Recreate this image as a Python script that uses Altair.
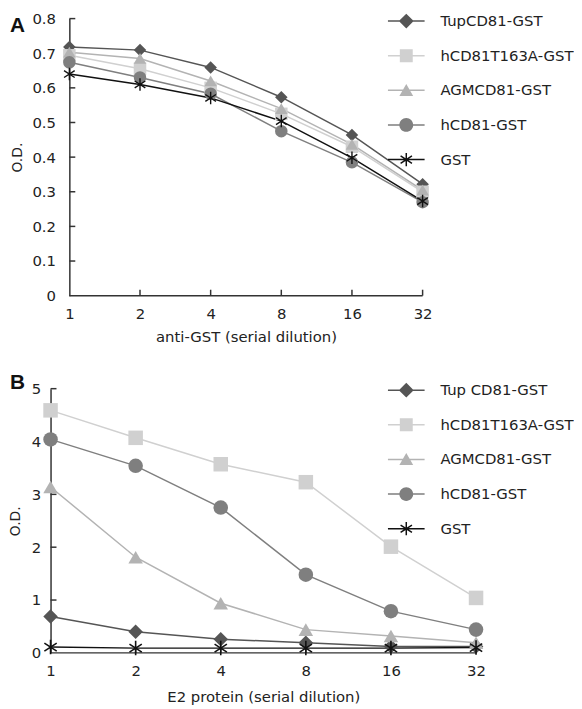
import altair as alt
import pandas as pd

# ---------------- data ----------------
dilutions = [1, 2, 4, 8, 16, 32]

names_a = ["TupCD81-GST", "hCD81T163A-GST", "AGMCD81-GST", "hCD81-GST", "GST"]
names_b = ["Tup CD81-GST", "hCD81T163A-GST", "AGMCD81-GST", "hCD81-GST", "GST"]

od_a = {
    "TupCD81-GST":    [0.718, 0.709, 0.659, 0.573, 0.464, 0.322],
    "hCD81T163A-GST": [0.694, 0.655, 0.600, 0.525, 0.430, 0.300],
    "AGMCD81-GST":    [0.703, 0.685, 0.620, 0.540, 0.437, 0.305],
    "hCD81-GST":      [0.674, 0.630, 0.583, 0.475, 0.385, 0.270],
    "GST":            [0.640, 0.610, 0.571, 0.504, 0.398, 0.273],
}
od_b = {
    "Tup CD81-GST":   [0.69, 0.40, 0.26, 0.19, 0.12, 0.12],
    "hCD81T163A-GST": [4.59, 4.07, 3.57, 3.23, 2.01, 1.04],
    "AGMCD81-GST":    [3.14, 1.81, 0.94, 0.44, 0.32, 0.19],
    "hCD81-GST":      [4.04, 3.54, 2.75, 1.48, 0.79, 0.44],
    "GST":            [0.11, 0.09, 0.09, 0.09, 0.09, 0.10],
}

y_ticks_a = [0, 0.1, 0.2, 0.3, 0.4, 0.5, 0.6, 0.7, 0.8]
y_ticks_b = [0, 1, 2, 3, 4, 5]
panel_labels = ["A", "B"]
x_title_a = "anti-GST (serial dilution)"
x_title_b = "E2 protein (serial dilution)"
y_title = "O.D."

# ---------------- styles ----------------
FONT = "DejaVu Sans"
TXT = "#222222"
AXIS = "#333333"
colors = ["#555555", "#d0d0d0", "#b3b3b3", "#7f7f7f", "#111111"]
ASTERISK = ("M-0.11,-1L0.11,-1L0.11,1L-0.11,1Z"
            "M-0.79,-0.642L0.91,0.458L0.79,0.642L-0.91,-0.458Z"
            "M-0.79,0.642L-0.91,0.458L0.79,-0.642L0.91,-0.458Z")
shapes = ["diamond", "square", "triangle-up", "circle", ASTERISK]

# legend glyphs: marker (unit box = 15 px) with a 37 px line through it
LEG_LINE = "M-2.47,-0.1L2.47,-0.1L2.47,0.1L-2.47,0.1Z"
legend_shapes = [
    LEG_LINE + "M0,-1L1,0L0,1L-1,0Z",
    LEG_LINE + "M-0.87,-0.87L0.87,-0.87L0.87,0.87L-0.87,0.87Z",
    LEG_LINE + "M0,-0.85L0.93,0.75L-0.93,0.75Z",
    LEG_LINE + "M-0.93,0A0.93,0.93 0 1,1 0.93,0A0.93,0.93 0 1,1 -0.93,0Z",
    LEG_LINE + ("M-0.1,-0.9L0.1,-0.9L0.1,0.9L-0.1,0.9Z"
                "M-0.711,-0.578L0.819,0.412L0.711,0.578L-0.819,-0.412Z"
                "M-0.711,0.578L-0.819,0.412L0.711,-0.578L0.819,-0.412Z"),
]


def long_df(names, table):
    rows = []
    for n in names:
        for d, v in zip(dilutions, table[n]):
            rows.append({"dil": d, "od": v, "series": n})
    return pd.DataFrame(rows)


def panel(names, table, yticks, ymax, width, height, xoff, xtitle, label,
          label_y, label_pad, title_pad, ytitle_pad, lx, ly, row_pad, psize):
    df = long_df(names, table)
    x_enc = alt.X(
        "dil:Q",
        scale=alt.Scale(type="log", base=2, domain=[1, 32], nice=False,
                        range=[xoff, width]),
        axis=alt.Axis(values=dilutions, format="d", title=xtitle, ticks=False,
                      domain=False, grid=False, labelPadding=11, titlePadding=title_pad,
                      labelFlush=False),
    )
    y_enc = alt.Y(
        "od:Q",
        scale=alt.Scale(domain=[0, ymax], nice=False, zero=True),
        axis=alt.Axis(values=yticks, format="~g", title=y_title, ticks=False,
                      grid=False, labelPadding=label_pad, titlePadding=ytitle_pad,
                      labelFlush=False, offset=-xoff),
    )
    legend = alt.Legend(
        title=None, orient="none", legendX=lx, legendY=ly,
        labelFont=FONT, labelFontSize=15, labelColor=TXT,
        symbolSize=225, rowPadding=row_pad, labelOffset=26, padding=0,
    )
    layers = []
    # axis line (x) drawn along the data range
    dom = pd.DataFrame({"dil": [dilutions[0]], "dil2": [dilutions[-1]]})
    layers.append(alt.Chart(dom).mark_rule(color=AXIS, strokeWidth=1.5).encode(
        x=x_enc, x2="dil2:Q", y=alt.value(height)))
    # inward ticks
    ytick_df = pd.DataFrame({"od": [t for t in yticks if t > 0]})
    layers.append(alt.Chart(ytick_df).mark_rule(color=AXIS, strokeWidth=1.5).encode(
        y=y_enc, x=alt.value(xoff), x2=alt.value(xoff + 6)))
    xtick_df = pd.DataFrame({"dil": dilutions[1:]})
    layers.append(alt.Chart(xtick_df).mark_rule(color=AXIS, strokeWidth=1.5).encode(
        x=x_enc, y=alt.value(height), y2=alt.value(height - 6)))
    # one line per series
    for n, c in zip(names, colors):
        layers.append(alt.Chart(df).transform_filter(alt.datum.series == n)
                      .mark_line(color=c, strokeWidth=1.5).encode(x=x_enc, y=y_enc))
    # markers (no legend)
    layers.append(alt.Chart(df).mark_point(filled=True, size=psize, opacity=1).encode(
        x=x_enc, y=y_enc,
        color=alt.Color("series:N", scale=alt.Scale(domain=names, range=colors), legend=None),
        shape=alt.Shape("series:N", scale=alt.Scale(domain=names, range=shapes), legend=None),
    ))
    # legend provider (draws nothing in the plot)
    layers.append(alt.Chart(df).transform_filter(alt.datum.od < -1).mark_point(
        filled=True, opacity=1).encode(
        x=x_enc, y=y_enc,
        color=alt.Color("series:N", scale=alt.Scale(domain=names, range=colors), legend=legend),
        shape=alt.Shape("series:N", scale=alt.Scale(domain=names, range=legend_shapes),
                        legend=legend),
    ))
    layers.append(alt.Chart(pd.DataFrame({"t": [label]})).mark_text(
        font="Liberation Sans", fontWeight="bold", fontSize=21, color="#111111",
        align="left", baseline="alphabetic").encode(
        text="t:N", x=alt.value(-41), y=alt.value(label_y)))
    return alt.layer(*layers).resolve_scale(
        shape="independent", color="independent"
    ).properties(width=width, height=height)


top = panel(names_a, od_a, y_ticks_a, 0.8, 376, 280, 19, x_title_a, panel_labels[0],
            14, 14, 8, 8, 351, -6, 18, 160)
bottom = panel(names_b, od_b, y_ticks_b, 5, 430, 267, 0, x_title_b, panel_labels[1],
               0, 10, 11, 9, 351, -7, 18, 215)

chart = alt.vconcat(top, bottom, spacing=28).resolve_scale(
    color="independent", shape="independent"
).properties(
    padding={"left": 0, "top": 0, "right": 0, "bottom": 0}
).configure_view(stroke=None).configure_axis(
    domainColor=AXIS, domainWidth=1.5, labelFont=FONT, labelFontSize=15,
    labelColor=TXT, titleFont=FONT, titleFontSize=15, titleFontWeight="normal",
    titleColor=TXT,
).configure_axisY(titleFontSize=14)

chart.save("out.html", embed_options={"renderer": "svg", "actions": False})
